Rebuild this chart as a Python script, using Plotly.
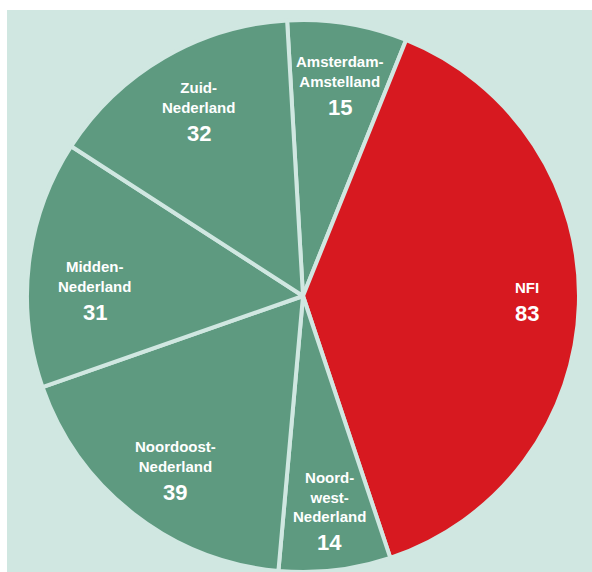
import math
import plotly.graph_objects as go

# ---- data ----
regions = ["Amsterdam-Amstelland", "NFI", "Noordwest-Nederland",
           "Noordoost-Nederland", "Midden-Nederland", "Zuid-Nederland"]
display_names = ["Amsterdam-<br>Amstelland", "NFI", "Noord-<br>west-<br>Nederland",
                 "Noordoost-<br>Nederland", "Midden-<br>Nederland", "Zuid-<br>Nederland"]
values = [15, 83, 14, 39, 31, 32]

# ---- style ----
W, H = 592, 572
BG = "#d0e7e1"
GREEN = "#5e9a80"
RED = "#d71920"
colors = [GREEN, RED, GREEN, GREEN, GREEN, GREEN]
rotation = -3.3
cx, cy, r = 303, 296, 276          # pie centre / radius in pixels (cy from top)
label_frac = [0.755, 0.81, 0.84, 0.80, 0.755, 0.75]   # radial placement of labels
label_nudge = [1.0, -1.4, 0.0, -2.5, -6.8, 0.0]       # angular nudge of labels (deg)
FONT = "Liberation Sans, Arial, sans-serif"

fig = go.Figure()
fig.add_trace(go.Pie(
    labels=regions, values=values, sort=False, direction="clockwise",
    rotation=rotation, marker=dict(colors=colors, line=dict(color=BG, width=4)),
    textinfo="none", hoverinfo="label+value", showlegend=False,
    domain=dict(x=[(cx - r) / W, (cx + r) / W], y=[(H - cy - r) / H, (H - cy + r) / H]),
))

total = sum(values)
annotations = []
cum = 0
for i, v in enumerate(values):
    ang = rotation + (cum + v / 2) * 360 / total + label_nudge[i]
    cum += v
    a = math.radians(ang)
    px = cx + label_frac[i] * r * math.sin(a)
    py = cy - label_frac[i] * r * math.cos(a)
    xp, yp = px / W, 1 - py / H
    annotations.append(dict(x=xp, y=yp, xref="paper", yref="paper", text=display_names[i],
                            showarrow=False, xanchor="center", yanchor="bottom",
                            font=dict(family=FONT, size=15, color="white"),
                            yshift=-1))
    annotations.append(dict(x=xp, y=yp, xref="paper", yref="paper", text=str(v),
                            showarrow=False, xanchor="center", yanchor="top",
                            font=dict(family=FONT, size=22, color="white"),
                            yshift=-2))

for a in annotations:
    a["text"] = "<b>" + a["text"] + "</b>"

fig.update_layout(
    width=W, height=H, margin=dict(l=0, r=0, t=0, b=0),
    paper_bgcolor="white", plot_bgcolor="white",
    shapes=[dict(type="rect", xref="paper", yref="paper", x0=7 / W, x1=1,
                 y0=0, y1=(H - 10) / H, fillcolor=BG, line=dict(width=0), layer="below")],
    annotations=annotations,
)
fig.write_html("out.html")
